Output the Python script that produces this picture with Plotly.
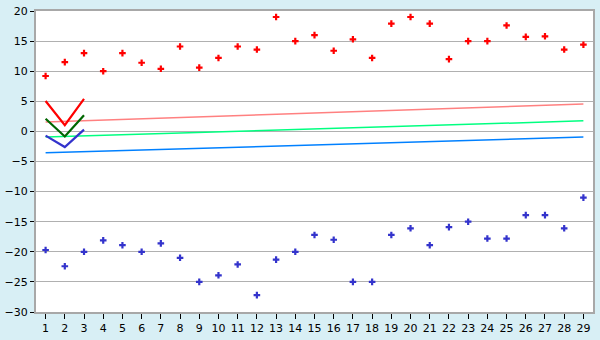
import plotly.graph_objects as go

categories = list(range(1, 30))
red_points = [9.2, 11.5, 13.0, 10.0, 13.0, 11.4, 10.4, 14.1, 10.6, 12.2,
              14.1, 13.6, 19.0, 15.0, 16.0, 13.4, 15.3, 12.2, 17.9, 19.0,
              17.9, 12.0, 15.0, 15.0, 17.6, 15.7, 15.8, 13.6, 14.4]
blue_points = [-19.7, -22.4, -20.0, -18.1, -18.9, -20.0, -18.6, -21.0, -25.0, -23.9,
               -22.1, -27.2, -21.3, -20.0, -17.2, -18.0, -25.0, -25.0, -17.2, -16.1,
               -18.9, -15.9, -15.0, -17.8, -17.8, -13.9, -13.9, -16.1, -11.0]
v_x = [1, 2, 3]
v_red = [5.05, 1.05, 5.4]
v_green = [2.1, -0.85, 2.7]
v_blue = [-0.7, -2.6, 0.3]
trend_x = [1, 29]
trend_red = [1.55, 4.55]
trend_green = [-0.95, 1.75]
trend_blue = [-3.55, -0.95]
y_ticks = [-30, -25, -20, -15, -10, -5, 0, 5, 10, 15, 20]

fig = go.Figure()
for ys, col in [(trend_red, "#ff8080"), (trend_green, "#00ff80"), (trend_blue, "#0080ff")]:
    fig.add_trace(go.Scatter(x=trend_x, y=ys, mode="lines",
                             line=dict(color=col, width=1.5), hoverinfo="skip"))
for ys, col in [(v_red, "#ff0000"), (v_green, "#006600"), (v_blue, "#3333cc")]:
    fig.add_trace(go.Scatter(x=v_x, y=ys, mode="lines",
                             line=dict(color=col, width=2.2)))
fig.add_trace(go.Scatter(x=categories, y=red_points, mode="markers",
                         marker=dict(symbol="cross", size=5.5, color="#ff0000")))
fig.add_trace(go.Scatter(x=categories, y=blue_points, mode="markers",
                         marker=dict(symbol="cross", size=5.5, color="#3333cc")))

fig.update_layout(
    width=600, height=340,
    margin=dict(l=26, r=5, t=5, b=20),
    paper_bgcolor="#d8eff5", plot_bgcolor="#ffffff",
    showlegend=False,
    font=dict(family="DejaVu Sans", size=11, color="#000000"),
    xaxis=dict(range=[0.5, 29.5], tickvals=categories, ticktext=[str(c) for c in categories],
               showgrid=False, zeroline=False, ticks="outside", ticklen=5, tickcolor="#000",
               showline=True, linecolor="#a8a8a8", linewidth=2, mirror=True,
               tickfont=dict(size=11)),
    yaxis=dict(range=[-30, 20], tickvals=y_ticks, showgrid=True, gridcolor="#b0b0b0",
               gridwidth=1, zeroline=False, ticks="outside", ticklen=4, tickcolor="#000",
               showline=True, linecolor="#a8a8a8", linewidth=2, mirror=True,
               tickfont=dict(size=11)),
)
fig.write_html("out.html")
